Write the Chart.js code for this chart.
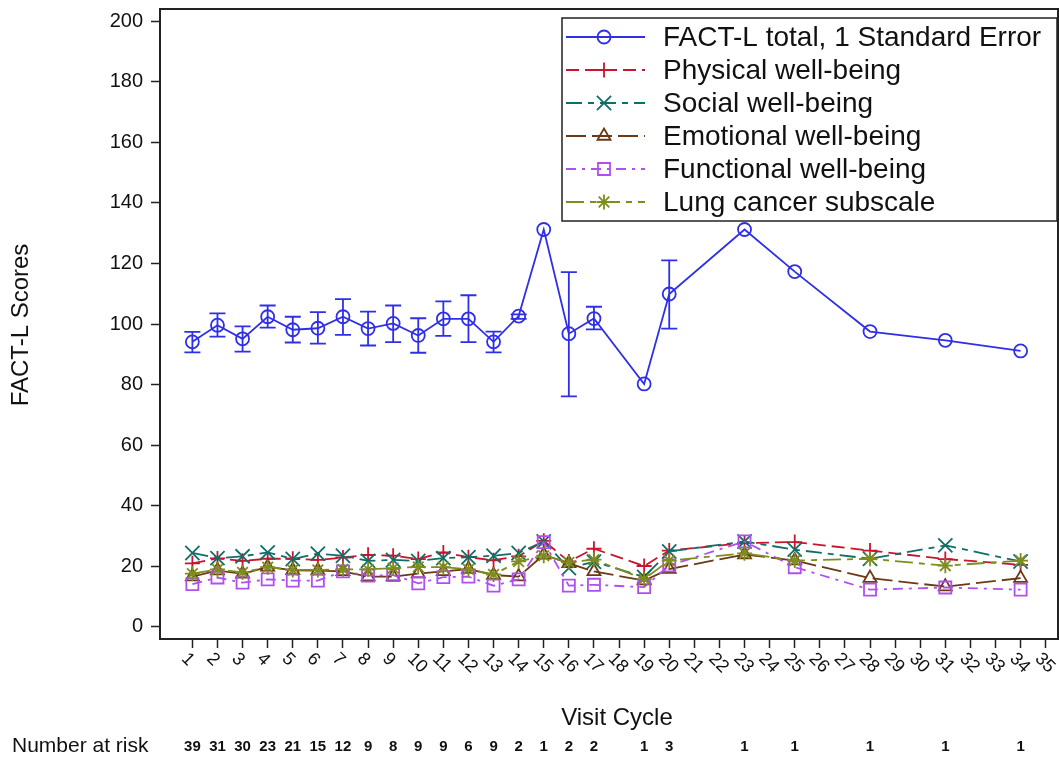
<!DOCTYPE html>
<html>
<head>
<meta charset="utf-8">
<script src="https://cdn.jsdelivr.net/npm/chart.js@4.4.1/dist/chart.umd.min.js"></script>
<style>
  html, body { margin: 0; padding: 0; background: #fff; }
</style>
</head>
<body>
<canvas id="chart" width="1059" height="757"></canvas>
<script>
// visit cycles that have data
const cycles = [1, 2, 3, 4, 5, 6, 7, 8, 9, 10, 11, 12, 13, 14, 15, 16, 17, 19, 20, 23, 25, 28, 31, 34];
const numberAtRisk = [39, 31, 30, 23, 21, 15, 12, 9, 8, 9, 9, 6, 9, 2, 1, 2, 2, 1, 3, 1, 1, 1, 1, 1];

const factTotal = [94.1, 99.6, 95.1, 102.4, 98.1, 98.6, 102.4, 98.5, 100.2, 96.2, 101.7, 101.7, 94.1, 102.6, 131.2, 96.8, 101.8, 80.2, 109.9, 131.2, 117.3, 97.5, 94.6, 91.1];
const totalUpper = [97.4, 103.5, 99.2, 106.1, 102.4, 103.9, 108.2, 104.1, 106.1, 101.9, 107.5, 109.5, 97.5, 103.2, null, 117.1, 105.7, null, 121.0, null, null, null, null, null];
const totalLower = [90.6, 95.8, 90.9, 98.8, 93.9, 93.5, 96.4, 92.9, 94.0, 90.5, 96.1, 94.0, 90.6, 101.7, null, 76.1, 98.2, null, 98.5, null, null, null, null, null];

const physical = [21.0, 22.6, 21.8, 22.5, 22.5, 22.1, 22.9, 23.8, 23.5, 22.4, 24.6, 23.0, 22.0, 23.3, 28.4, 21.6, 25.8, 20.1, 25.2, 27.7, 28.0, 25.2, 22.4, 20.5];
const social = [24.4, 22.7, 23.3, 24.6, 22.4, 24.2, 23.5, 21.8, 22.1, 21.8, 22.7, 23.0, 23.5, 24.4, 28.2, 19.4, 21.5, 16.5, 24.9, 28.2, 25.5, 22.5, 26.9, 21.6];
const emotional = [16.6, 18.6, 17.5, 19.8, 18.7, 18.6, 18.3, 16.6, 16.6, 17.6, 18.3, 19.1, 17.1, 16.6, 23.8, 21.0, 18.3, 15.3, 19.1, 23.9, 21.9, 16.1, 13.3, 16.1];
const functional = [14.1, 16.3, 14.6, 15.7, 15.3, 15.3, 18.3, 16.9, 17.1, 14.4, 16.4, 16.6, 13.6, 15.7, 28.0, 13.6, 13.9, 13.1, 20.3, 28.2, 19.7, 12.3, 13.0, 12.3];
const lungCancer = [17.6, 19.0, 18.0, 19.7, 18.8, 18.8, 19.0, 19.0, 19.4, 19.8, 19.7, 19.0, 17.3, 21.6, 23.5, 21.3, 22.2, 15.8, 21.9, 24.3, 21.9, 22.5, 20.2, 21.9];

const xTicks = [];
for (let i = 1; i <= 35; i++) xTicks.push(i);
const yTicks = [0, 20, 40, 60, 80, 100, 120, 140, 160, 180, 200];

const FONT = '"Liberation Sans", Arial, sans-serif';

function series(label, values, color, pointStyle, radius, dash) {
  return {
    label: label,
    data: cycles.map((c, i) => ({ x: c, y: values[i] })),
    borderColor: color,
    backgroundColor: 'rgba(0,0,0,0)',
    borderWidth: 1.8,
    borderDash: dash,
    pointStyle: pointStyle,
    pointRadius: radius,
    pointBorderColor: color,
    pointBackgroundColor: 'rgba(0,0,0,0)',
    pointBorderWidth: 1.8,
    tension: 0,
    spanGaps: true
  };
}

const datasets = [
  series('Lung cancer subscale', lungCancer, '#7f8c1e', 'star', 7.5, [18, 6, 6, 6]),
  series('Functional well-being', functional, '#b04ff0', 'rect', 8.5, [10, 6, 3, 6]),
  series('Emotional well-being', emotional, '#6b3a14', 'triangle', 7.5, [20, 6]),
  series('Social well-being', social, '#0f6e68', 'crossRot', 10, [16, 6, 6, 6]),
  series('Physical well-being', physical, '#c8142e', 'cross', 7.5, [13, 6]),
  series('FACT-L total, 1 Standard Error', factTotal, '#2f2fe8', 'circle', 6.5, [])
];

function marker(ctx, style, radius, x, y, color) {
  ctx.save();
  ctx.strokeStyle = color;
  ctx.fillStyle = 'rgba(0,0,0,0)';
  ctx.lineWidth = 1.8;
  ctx.setLineDash([]);
  if (Chart.helpers && Chart.helpers.drawPoint) {
    Chart.helpers.drawPoint(ctx, { pointStyle: style, radius: radius, borderWidth: 1.8, rotation: 0 }, x, y);
  } else {
    ctx.beginPath();
    ctx.arc(x, y, radius, 0, Math.PI * 2);
    ctx.stroke();
  }
  ctx.restore();
}

const extras = {
  id: 'extras',
  afterDatasetsDraw(chart) {
    const ctx = chart.ctx, xs = chart.scales.x, ys = chart.scales.y;
    ctx.save();
    ctx.strokeStyle = '#2f2fe8';
    ctx.lineWidth = 1.8;
    cycles.forEach((c, i) => {
      if (totalUpper[i] == null) return;
      const x = xs.getPixelForValue(c);
      const y1 = ys.getPixelForValue(totalUpper[i]);
      const y2 = ys.getPixelForValue(totalLower[i]);
      ctx.beginPath();
      ctx.moveTo(x, y1); ctx.lineTo(x, y2);
      ctx.moveTo(x - 8, y1); ctx.lineTo(x + 8, y1);
      ctx.moveTo(x - 8, y2); ctx.lineTo(x + 8, y2);
      ctx.stroke();
    });
    ctx.restore();
  },
  afterDraw(chart) {
    const ctx = chart.ctx, xs = chart.scales.x, a = chart.chartArea;
    ctx.save();

    // frame
    ctx.strokeStyle = '#222';
    ctx.lineWidth = 2;
    ctx.strokeRect(a.left, a.top, a.right - a.left, a.bottom - a.top);

    // rotated x tick labels
    ctx.fillStyle = '#111';
    ctx.font = '18px ' + FONT;
    ctx.textAlign = 'left';
    ctx.textBaseline = 'middle';
    xTicks.forEach(v => {
      const x = xs.getPixelForValue(v);
      ctx.save();
      ctx.translate(x - 8, a.bottom + 17);
      ctx.rotate(Math.PI / 4);
      ctx.fillText(String(v), 0, 0);
      ctx.restore();
    });

    // axis titles
    ctx.textAlign = 'center';
    ctx.font = '24px ' + FONT;
    ctx.fillText('Visit Cycle', 617, 718);
    ctx.save();
    ctx.translate(21, 325);
    ctx.rotate(-Math.PI / 2);
    ctx.fillText('FACT-L Scores', 0, 0);
    ctx.restore();

    // number at risk row
    ctx.textAlign = 'left';
    ctx.font = '21px ' + FONT;
    ctx.fillText('Number at risk', 12, 746);
    ctx.textAlign = 'center';
    ctx.font = 'bold 15px "Liberation Sans Narrow", ' + FONT;
    cycles.forEach((c, i) => {
      ctx.fillText(String(numberAtRisk[i]), xs.getPixelForValue(c), 747);
    });

    // legend
    const lx = 562, ly = 18, lw = 495, lh = 203;
    ctx.fillStyle = '#fff';
    ctx.fillRect(lx, ly, lw, lh);
    ctx.strokeStyle = '#222';
    ctx.lineWidth = 1.5;
    ctx.strokeRect(lx, ly, lw, lh);
    const order = datasets.slice().reverse();
    ctx.font = '28px ' + FONT;
    ctx.textAlign = 'left';
    order.forEach((ds, i) => {
      const y = 37 + i * 33;
      ctx.save();
      ctx.strokeStyle = ds.borderColor;
      ctx.lineWidth = 1.8;
      ctx.setLineDash(ds.borderDash);
      ctx.beginPath();
      ctx.moveTo(566, y);
      ctx.lineTo(645, y);
      ctx.stroke();
      ctx.restore();
      marker(ctx, ds.pointStyle, ds.pointRadius, 604, y, ds.borderColor);
      ctx.fillStyle = '#111';
      ctx.fillText(ds.label, 663, y + 1);
    });

    ctx.restore();
  }
};

new Chart(document.getElementById('chart').getContext('2d'), {
  type: 'line',
  data: { datasets: datasets },
  options: {
    responsive: false,
    animation: false,
    layout: { autoPadding: false, padding: { top: 9, right: 1, left: 0, bottom: 0 } },
    plugins: { legend: { display: false }, tooltip: { enabled: false } },
    scales: {
      x: {
        type: 'linear',
        min: -0.29,
        max: 35.49,
        afterBuildTicks: s => { s.ticks = xTicks.map(v => ({ value: v })); },
        afterFit: s => { s.height = 118; s.paddingLeft = 0; s.paddingRight = 0; },
        ticks: { display: false },
        grid: { display: true, drawOnChartArea: false, drawTicks: true, tickLength: 9, tickColor: '#222', tickWidth: 1.5 },
        border: { display: false }
      },
      y: {
        min: -4,
        max: 204,
        afterBuildTicks: s => { s.ticks = yTicks.map(v => ({ value: v })); },
        afterFit: s => { s.width = 160; s.paddingTop = 0; s.paddingBottom = 0; },
        ticks: { color: '#111', padding: 8, font: { size: 20, family: FONT } },
        grid: { display: true, drawOnChartArea: false, drawTicks: true, tickLength: 9, tickColor: '#222', tickWidth: 1.5 },
        border: { display: false }
      }
    }
  },
  plugins: [extras]
});
</script>
</body>
</html>
